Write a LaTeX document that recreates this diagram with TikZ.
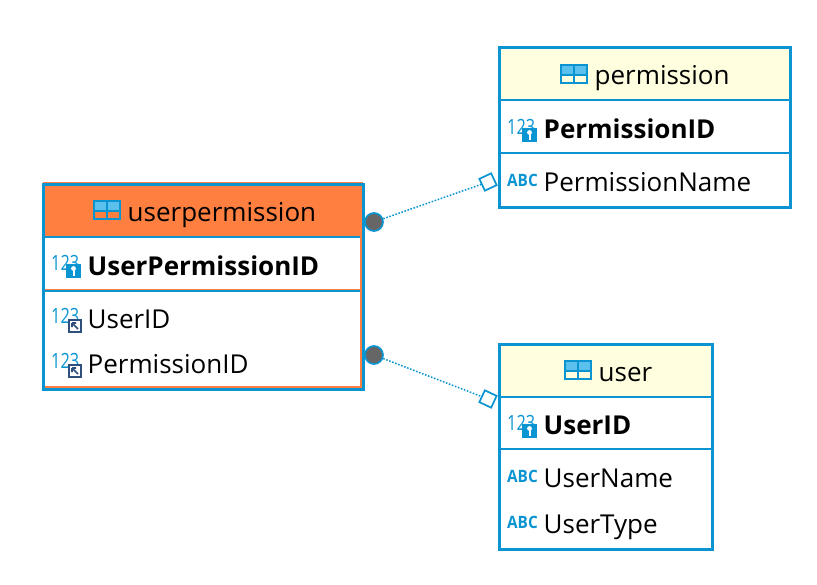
\documentclass[tikz,border=0pt]{standalone}
\usepackage{fontspec}
\setmainfont{Open Sans}
\usetikzlibrary{shapes.geometric}
\definecolor{dbblue}{HTML}{0A94D2}
\definecolor{dblight}{HTML}{5CC0EC}
\definecolor{dborange}{HTML}{FF7F40}
\definecolor{dbcream}{HTML}{FFFFE0}
\definecolor{dbgray}{HTML}{666666}
\definecolor{dbnavy}{HTML}{2F4F7F}
\tikzset{
  tablebox/.style={draw=dbblue,line width=3pt},
  rowline/.style={draw=dbblue,line width=1.6pt},
  coltext/.style={anchor=base west,inner sep=0pt,font=\fontsize{26}{26}\selectfont},
  keytext/.style={coltext,font=\fontsize{26}{26}\selectfont\bfseries},
  numtext/.style={anchor=base west,inner sep=0pt,text=dbblue,xscale=0.78,font=\fontsize{21}{21}\selectfont},
  abctext/.style={anchor=base west,inner sep=0pt,text=dbblue,xscale=0.9,font=\fontsize{17}{17}\selectfont\bfseries},
  fkdot/.style={circle,draw=dbblue,fill=dbgray,line width=1.7pt,minimum size=18pt,inner sep=0pt},
  pkdiamond/.style={rectangle,draw=dbblue,fill=white,line width=1.7pt,minimum size=13pt,inner sep=0pt},
  link/.style={draw=dbblue,line width=1.5pt,dash pattern=on 1.6pt off 1.6pt},
  tableicon/.pic={
    \fill[dblight] (0,0) rectangle (26,10);
    \draw[dbblue,line width=2pt] (0,0) rectangle (26,18);
    \draw[dbblue,line width=2pt] (0,10) -- (26,10) (13,0) -- (13,18);
  },
  pkicon/.pic={
    \fill[dbblue] (15,8.5) rectangle (30,23);
    \fill[white] (22.5,13.5) circle (2.4);
    \fill[white] (21.5,14.5) rectangle (23.5,20.5);
  },
  fkicon/.pic={
    \draw[dbnavy,fill=white,line width=2pt] (18,12) rectangle (30,24);
    \draw[dbnavy,line width=1.6pt] (21,15) -- (27,21) (21,15) -- (25,15) (21,15) -- (21,19);
  }
}
\begin{document}
\begin{tikzpicture}[x=1pt,y=-1pt]
  \useasboundingbox (0,0) rectangle (817,584);

  % userpermission
  \fill[dborange] (43,183) rectangle (363,237);
  \draw[dborange,line width=1pt] (43,182.5) -- (363,182.5);
  \draw[dborange,line width=2pt] (361,183) -- (361,389);
  \draw[dborange,line width=1.5pt] (43,387.2) -- (361,387.2);
  \draw[rowline] (43,237) -- (360,237);
  \draw[dborange,line width=1pt] (43,289.5) -- (361,289.5);
  \draw[rowline] (43,291) -- (360,291);
  \draw[tablebox] (43.5,184.5) rectangle (363.5,389.5);
  \pic at (94,200.5) {tableicon};
  \node[coltext] (upname) at (127.5,221) {userpermission};
  \node[keytext] (upid) at (87.5,275) {UserPermissionID};
  \node[coltext] (upuser) at (87.5,328) {UserID};
  \node[coltext] (upperm) at (87.5,373) {PermissionID};

  % permission
  \fill[dbcream] (499,47) rectangle (791,100);
  \draw[rowline] (499,100) -- (791,100);
  \draw[rowline] (499,153) -- (791,153);
  \draw[tablebox] (499.5,47.5) rectangle (790.5,207);
  \pic at (561,64.5) {tableicon};
  \node[coltext] (pname) at (594.5,84) {permission};
  \node[keytext] (pid) at (543.5,138) {PermissionID};
  \node[coltext] (pcol) at (543.5,191) {PermissionName};

  % user
  \fill[dbcream] (499,344) rectangle (713,397);
  \draw[rowline] (499,397) -- (713,397);
  \draw[rowline] (499,449) -- (713,449);
  \draw[tablebox] (499.5,344.5) rectangle (712.5,549);
  \pic at (565,361) {tableicon};
  \node[coltext] (uname) at (598.5,381) {user};
  \node[keytext] (uid) at (543.5,434) {UserID};
  \node[coltext] (ucol) at (543.5,487) {UserName};
  \node[coltext] (utype) at (543.5,533) {UserType};

  % column icons
  \foreach \name/\x/\y in {numa/51/270, numb/51/323, numc/51/368, numd/507/134, nume/507/430} {
    \node[numtext] (\name) at (\x,\y) {123};
  }
  \foreach \x/\y in {51/255, 507/119, 507/415} {
    \pic at (\x,\y) {pkicon};
  }
  \foreach \x/\y in {51/308, 51/353} {
    \pic at (\x,\y) {fkicon};
  }
  \foreach \name/\y in {abca/186, abcb/482, abcc/528} {
    \node[abctext] (\name) at (507,\y) {ABC};
  }

  % links
  \node[fkdot] (dotperm) at (374,222) {};
  \node[fkdot] (dotuser) at (374,355) {};
  \node[pkdiamond,rotate=25] (endperm) at (488,182) {};
  \node[pkdiamond,rotate=-25] (enduser) at (488,399) {};
  \draw[link] (dotperm) -- (endperm);
  \draw[link] (dotuser) -- (enduser);
\end{tikzpicture}
\end{document}
